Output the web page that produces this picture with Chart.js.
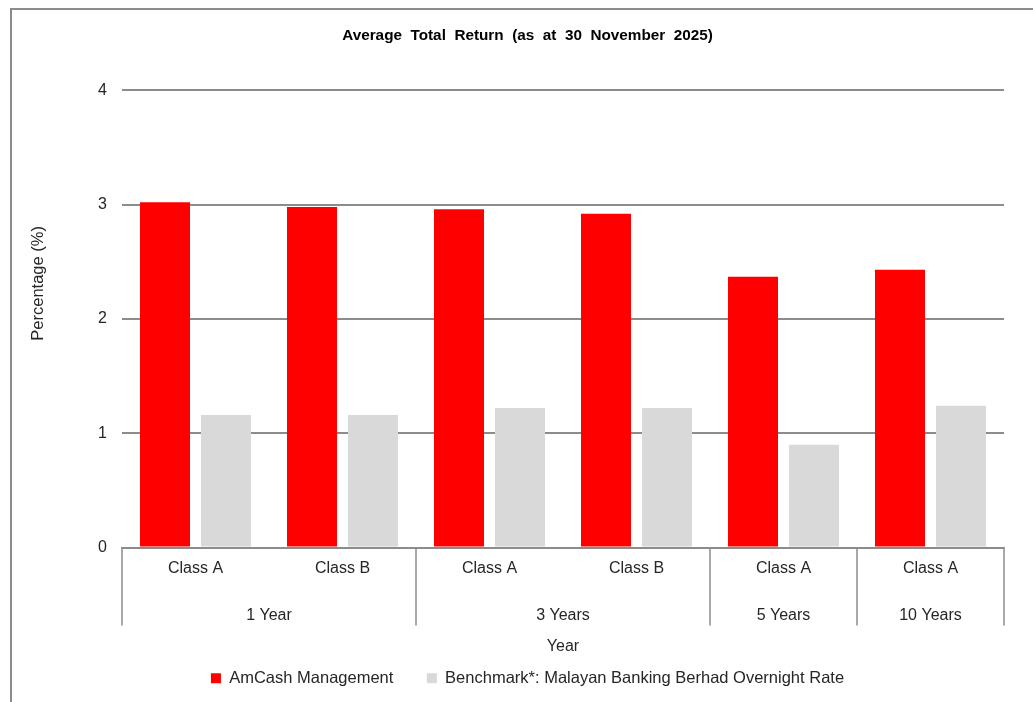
<!DOCTYPE html>
<html>
<head>
<meta charset="utf-8">
<title>Average Total Return</title>
<script src="https://cdn.jsdelivr.net/npm/chart.js@4/dist/chart.umd.min.js"></script>
<style>
  html, body { margin: 0; padding: 0; background: #ffffff; }
  #wrap { position: relative; width: 1033px; height: 702px; }
  #frame { position: absolute; left: 10px; top: 8px; width: 1040px; height: 720px;
           border: 2px solid #8c8c8c; box-sizing: border-box; pointer-events: none; }
  #chart { position: absolute; left: 0; top: 0; }
</style>
</head>
<body>
<div id="wrap">
  <canvas id="chart" width="1033" height="702"></canvas>
  <div id="frame"></div>
</div>
<script>
// ===============================
// DADOS
// ===============================
const classes = ['Class A', 'Class B', 'Class A', 'Class B', 'Class A', 'Class A'];
const periodos = ['1 Year', '1 Year', '3 Years', '3 Years', '5 Years', '10 Years'];
const amcash = [3.02, 2.98, 2.96, 2.92, 2.37, 2.43];
const benchmark = [1.16, 1.16, 1.22, 1.22, 0.90, 1.24];
const yTicks = [0, 1, 2, 3, 4];

const FONT = 'Arial, "Liberation Sans", sans-serif';
const TXT = '#262626';
const LINHA = '#8c8c8c';

// ===============================
// EIXO X EM DOIS NÍVEIS (separadores + períodos) + título do eixo Y
// ===============================
const eixoAgrupado = {
  id: 'eixoAgrupado',
  afterDraw(chart) {
    const x = chart.scales.x;
    const ctx = chart.ctx;
    const topo = chart.chartArea.bottom;
    const fundo = topo + 78;

    // limites entre categorias onde muda o período
    const limites = [x.left];
    for (let i = 1; i < periodos.length; i++) {
      if (periodos[i] !== periodos[i - 1]) {
        limites.push((x.getPixelForTick(i - 1) + x.getPixelForTick(i)) / 2);
      }
    }
    limites.push(x.right);

    ctx.save();
    ctx.strokeStyle = LINHA;
    ctx.lineWidth = 1.5;
    limites.forEach(px => {
      ctx.beginPath();
      ctx.moveTo(px, topo);
      ctx.lineTo(px, fundo);
      ctx.stroke();
    });

    // rótulos dos períodos no centro de cada grupo
    ctx.fillStyle = TXT;
    ctx.font = '16px ' + FONT;
    ctx.textAlign = 'center';
    ctx.textBaseline = 'middle';
    let inicio = 0;
    for (let i = 1; i <= periodos.length; i++) {
      if (i === periodos.length || periodos[i] !== periodos[inicio]) {
        const a = x.getPixelForTick(inicio);
        const b = x.getPixelForTick(i - 1);
        ctx.fillText(periodos[inicio], (a + b) / 2, topo + 68);
        inicio = i;
      }
    }

    // título do eixo Y (no Excel fica um pouco acima do centro)
    ctx.translate(38, chart.chartArea.top + 193);
    ctx.rotate(-Math.PI / 2);
    ctx.font = '16.5px ' + FONT;
    ctx.fillText('Percentage (%)', 0, 0);
    ctx.restore();
  }
};

new Chart(document.getElementById('chart'), {
  type: 'bar',
  data: {
    labels: classes,
    datasets: [
      {
        label: 'AmCash Management',
        data: amcash,
        backgroundColor: '#ff0000',
        borderWidth: 0
      },
      {
        label: 'Benchmark*: Malayan Banking Berhad Overnight Rate',
        data: benchmark,
        backgroundColor: '#d9d9d9',
        borderWidth: 0
      }
    ]
  },
  options: {
    responsive: false,
    animation: false,
    devicePixelRatio: 1,
    datasets: {
      bar: { categoryPercentage: 0.83, barPercentage: 0.82 }
    },
    layout: { padding: { left: 22, right: 0, top: 0, bottom: 5.5 } },
    plugins: {
      title: {
        display: true,
        text: 'Average  Total  Return  (as  at  30  November  2025)',
        color: '#000000',
        font: { family: FONT, size: 15.3, weight: 'bold' },
        padding: { top: 27, bottom: 45 }
      },
      legend: {
        position: 'bottom',
        labels: {
          color: TXT,
          font: { family: FONT, size: 16.5 },
          boxWidth: 10,
          boxHeight: 10,
          padding: 33.5
        }
      },
      tooltip: { enabled: false }
    },
    scales: {
      x: {
        grid: { display: false },
        border: { display: true, color: LINHA, width: 1.5 },
        ticks: { color: TXT, font: { family: FONT, size: 16 }, padding: 3, maxRotation: 0 },
        title: {
          display: true,
          text: 'Year',
          color: TXT,
          font: { family: FONT, size: 16 },
          padding: { top: 0, bottom: -19.4 }
        },
        afterFit: s => { s.height = 89; }
      },
      y: {
        min: 0,
        max: 4,
        afterBuildTicks: s => { s.ticks = yTicks.map(v => ({ value: v })); },
        grid: { color: LINHA, lineWidth: 2, drawTicks: false },
        border: { display: false },
        ticks: { color: TXT, font: { family: FONT, size: 16 }, padding: 15 },
        afterFit: s => { s.width = 100; }
      },
      // eixo vazio à direita só para reservar a margem do Excel
      margemDireita: {
        type: 'linear',
        position: 'right',
        grid: { display: false },
        border: { display: false },
        ticks: { display: false },
        afterFit: s => { s.width = 29; }
      }
    }
  },
  plugins: [eixoAgrupado]
});
</script>
</body>
</html>
